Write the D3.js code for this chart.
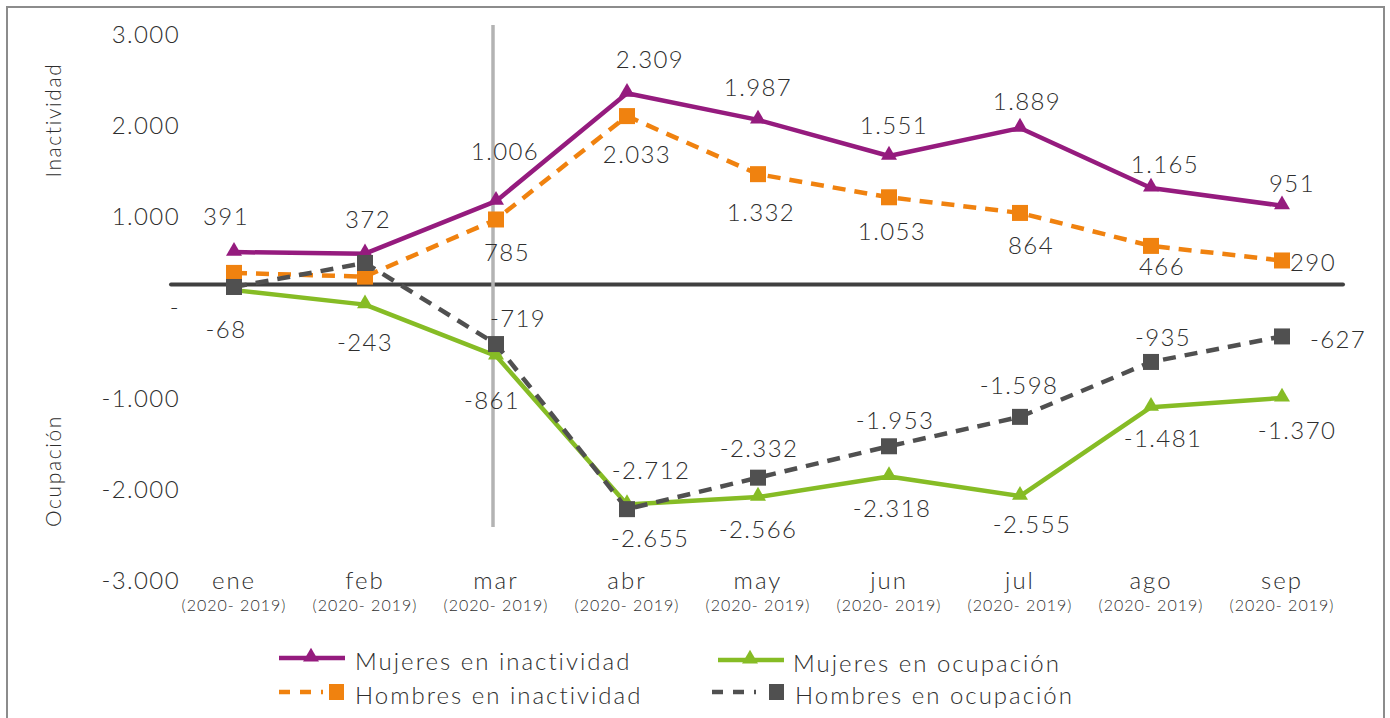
<!DOCTYPE html>
<html><head><meta charset="utf-8">
<script src="https://cdn.jsdelivr.net/npm/d3@7"></script>
<style>
body{margin:0;background:#fff}
svg{display:block}
text{font-family:Lato, "Open Sans", sans-serif; font-weight:300; fill:#2e2e2e}
</style>
</head><body><svg id="c" width="1390" height="718"></svg>
<script>
// ---------- data ----------
const months = ["ene","feb","mar","abr","may","jun","jul","ago","sep"];
const periodLabel = "(2020- 2019)";
const yTicks = [3000, 2000, 1000, 0, -1000, -2000, -3000];
const mujeresInactividad = [391, 372, 1006, 2309, 1987, 1551, 1889, 1165, 951];
const hombresInactividad = [140, 95, 785, 2033, 1332, 1053, 864, 466, 290];
const mujeresOcupacion   = [-68, -243, -861, -2655, -2566, -2318, -2555, -1481, -1370];
const hombresOcupacion   = [-30, 260, -719, -2712, -2332, -1953, -1598, -935, -627];
const seriesNames = ["Mujeres en inactividad", "Hombres en inactividad", "Mujeres en ocupación", "Hombres en ocupación"];
const axisTitles = ["Inactividad", "Ocupación"];
const markerMonth = "mar";

// ---------- layout (label nudges, px relative to point) ----------
const nudge = {
  mi: {dx:[-8,3,9,23,0,5,7,14,10], dy:[-36,-34,-50,-34,-32,-30,-26,-23,-22], show:[1,1,1,1,1,1,1,1,1]},
  hi: {dx:[0,0,11,10,3,3,11,11,31], dy:[0,0,33,39,38,34,33,21,2], show:[0,0,1,1,1,1,1,1,1]},
  mo: {dx:[-8,0,-4,23,0,3,12,12,15], dy:[39,38,45,34,33,32,28,31,33], show:[1,1,1,1,1,1,1,1,1]},
  ho: {dx:[0,0,22,24,1,6,-1,12,56], dy:[0,0,-25,-39,-29,-26,-31,-24,3], show:[0,0,1,1,1,1,1,1,1]}
};

const loc = d3.formatLocale({decimal:",", thousands:".", grouping:[3], currency:["",""], minus:"-"});
const fmtBase = loc.format(",.0f");
const fmt = v => v === 0 ? "-" : fmtBase(v);

const svg = d3.select("#c");

// frame
svg.append("rect").attr("x",7).attr("y",7).attr("width",1377).attr("height",730)
  .attr("fill","none").attr("stroke","#8c8c8c").attr("stroke-width",2);

const x = d3.scalePoint().domain(months).range([234, 1282]);
const y = d3.scaleLinear().domain([-3000, 3000]).range([533, 36]);      // data scale
const yLab = d3.scaleLinear().domain([-3000, 3000]).range([581, 34.5]); // tick-label scale

const FS = 24, LS = "1.4px";

// y tick labels
svg.append("g").selectAll("text").data(yTicks).join("text")
  .attr("x", 180).attr("y", d => yLab(d)).attr("dy","0.35em")
  .attr("text-anchor","end").style("font-size", FS+"px").style("letter-spacing",LS)
  .text(fmt);

// axis titles
[[axisTitles[0], 120], [axisTitles[1], 471]].forEach(([t, cy]) => {
  svg.append("text").attr("transform", `translate(54,${cy}) rotate(-90)`)
    .attr("text-anchor","middle").attr("dy","0.35em")
    .style("font-size","21px").style("letter-spacing","1.6px").text(t);
});

// x labels
const xl = svg.append("g");
xl.selectAll("text.m").data(months).join("text").attr("class","m")
  .attr("x", d => x(d)).attr("y", yLab(-3000)).attr("dy","0.35em")
  .attr("text-anchor","middle").style("font-size", FS+"px").style("letter-spacing","2px").text(d => d);
xl.selectAll("text.p").data(months).join("text").attr("class","p")
  .attr("x", d => x(d)).attr("y", yLab(-3000) + 24).attr("dy","0.35em")
  .attr("text-anchor","middle").style("font-size","16px").style("letter-spacing","1px").text(periodLabel);

// zero line
svg.append("line").attr("x1", x(months[0]) - 63).attr("x2", x(months[months.length-1]) + 61)
  .attr("y1", y(0)).attr("y2", y(0)).attr("stroke","#404040").attr("stroke-width",4).attr("stroke-linecap","round");

// vertical marker
svg.append("line").attr("x1", x(markerMonth) - 3).attr("x2", x(markerMonth) - 3)
  .attr("y1", y(3000) - 11).attr("y2", y(-3000) - 6).attr("stroke","#b3b3b3").attr("stroke-width",3.5);

const series = [
  {key:"mo", name:seriesNames[2], vals:mujeresOcupacion, color:"#86bc25", dash:null, marker:"tri"},
  {key:"mi", name:seriesNames[0], vals:mujeresInactividad, color:"#951b7e", dash:null, marker:"tri"},
  {key:"hi", name:seriesNames[1], vals:hombresInactividad, color:"#f0820f", dash:"13,9", marker:"sq"},
  {key:"ho", name:seriesNames[3], vals:hombresOcupacion, color:"#505050", dash:"13,9", marker:"sq"}
];

const line = d3.line().x((d,i) => x(months[i])).y(d => y(d));
const triPath = d3.symbol().type(d3.symbolTriangle).size(110);

series.forEach(s => {
  const g = svg.append("g");
  g.append("path").attr("d", line(s.vals)).attr("fill","none").attr("stroke", s.color)
    .attr("stroke-width", 4.5).attr("stroke-dasharray", s.dash).attr("stroke-linejoin","round");
  if (s.marker === "tri") {
    g.selectAll("path.mk").data(s.vals).join("path").attr("class","mk")
      .attr("d", triPath).attr("fill", s.color)
      .attr("transform", (d,i) => `translate(${x(months[i])},${y(d) - 1})`);
  } else {
    g.selectAll("rect").data(s.vals).join("rect")
      .attr("x", (d,i) => x(months[i]) - 8).attr("y", d => y(d) - 8)
      .attr("width",16).attr("height",16).attr("fill", s.color);
  }
});

// labels
series.forEach(s => {
  const n = nudge[s.key];
  svg.append("g").selectAll("text").data(s.vals.map((v,i)=>({v,i})).filter(d => n.show[d.i])).join("text")
    .attr("x", d => x(months[d.i]) + n.dx[d.i]).attr("y", d => y(d.v) + n.dy[d.i]).attr("dy","0.35em")
    .attr("text-anchor","middle").style("font-size", FS+"px").style("letter-spacing",LS)
    .text(d => fmt(d.v));
});

// legend
const legendItems = [
  {s:series[1], lx:279, tx:355, ty:662},
  {s:series[0], lx:718, tx:793, ty:664},
  {s:series[2], lx:279, tx:355, ty:696},
  {s:series[3], lx:712, tx:795, ty:696}
];
legendItems.forEach(it => {
  const g = svg.append("g");
  const s = it.s;
  const ly = it.ty - 4;
  if (s.marker === "tri") {
    g.append("line").attr("x1", it.lx).attr("x2", it.lx + 66).attr("y1", ly).attr("y2", ly)
      .attr("stroke", s.color).attr("stroke-width", 4.5);
    g.append("path").attr("d", triPath).attr("fill", s.color)
      .attr("transform", `translate(${it.lx + 32},${ly - 1})`);
  } else {
    g.append("line").attr("x1", it.lx).attr("x2", it.lx + 44).attr("y1", ly).attr("y2", ly)
      .attr("stroke", s.color).attr("stroke-width", 4.5).attr("stroke-dasharray","11,10");
    g.append("rect").attr("x", it.tx - 26).attr("y", ly - 8).attr("width", 15).attr("height", 16).attr("fill", s.color);
  }
  g.append("text").attr("x", it.tx).attr("y", it.ty).attr("dy","0.35em")
    .style("font-size", FS+"px").style("letter-spacing","2px").text(s.name);
});
</script>
</body></html>
